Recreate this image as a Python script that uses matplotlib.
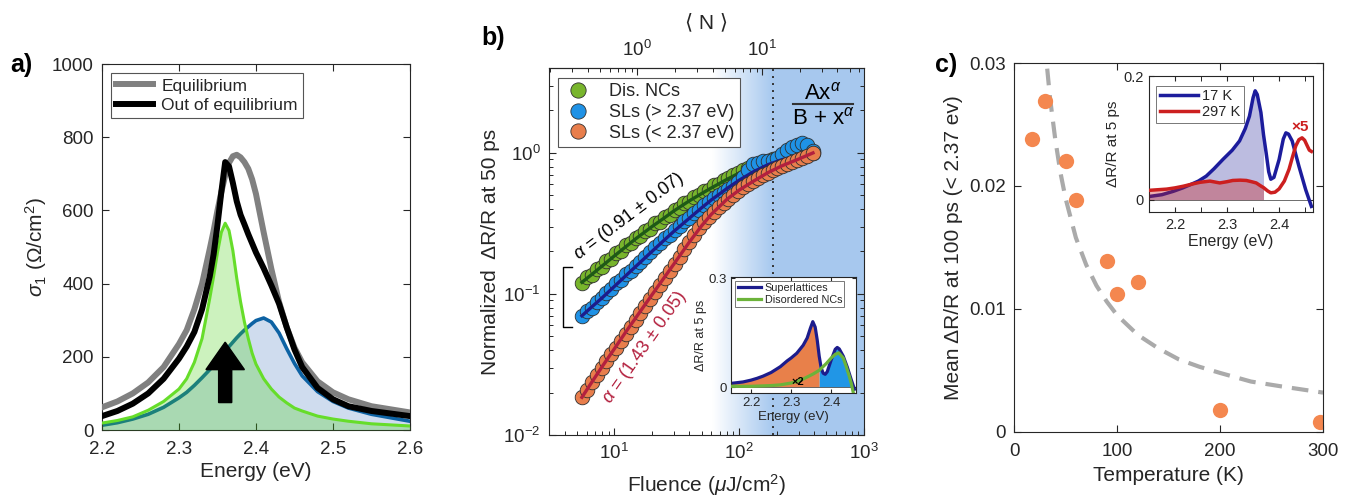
import numpy as np
import matplotlib
matplotlib.use('Agg')
import matplotlib.pyplot as plt
from matplotlib.lines import Line2D
from matplotlib.ticker import FixedLocator

plt.rcParams['font.family'] = ['Liberation Sans', 'DejaVu Sans']
plt.rcParams['mathtext.fontset'] = 'custom'
plt.rcParams['mathtext.rm'] = 'Liberation Sans'
plt.rcParams['mathtext.it'] = 'Liberation Sans:italic'
plt.rcParams['mathtext.bf'] = 'Liberation Sans:bold'
plt.rcParams['axes.unicode_minus'] = False
plt.rcParams['xtick.direction'] = 'in'
plt.rcParams['ytick.direction'] = 'in'
plt.rcParams['axes.edgecolor'] = '#262626'
plt.rcParams['xtick.color'] = '#262626'
plt.rcParams['ytick.color'] = '#262626'
plt.rcParams['text.color'] = '#262626'
plt.rcParams['axes.labelcolor'] = '#262626'

# ---------------- Panel a data ----------------
energy_a = [2.20, 2.22, 2.24, 2.26, 2.28, 2.30, 2.31, 2.32, 2.33, 2.34, 2.345,
            2.35, 2.355, 2.36, 2.365, 2.37, 2.375, 2.38, 2.385, 2.39, 2.395,
            2.40, 2.41, 2.42, 2.43, 2.44, 2.45, 2.46, 2.48, 2.50, 2.52, 2.55, 2.60]
sigma_eq = [62, 78, 100, 130, 172, 235, 273, 330, 400, 495, 545, 600, 650, 695, 730,
            748, 752, 745, 732, 714, 685, 645, 540, 440, 350, 280, 225, 185, 133,
            103, 84, 65, 48]
sigma_neq = [38, 52, 72, 100, 140, 195, 228, 268, 330, 420, 480, 560, 650, 732, 720,
             675, 625, 588, 562, 535, 510, 485, 442, 395, 345, 280, 220, 172, 115,
             84, 65, 52, 38]
sigma_green = [19, 26, 36, 54, 78, 112, 140, 185, 250, 360, 420, 485, 540, 565, 545,
               490, 415, 350, 295, 250, 210, 180, 140, 112, 90, 74, 60, 52, 38, 30,
               24, 17, 11]
sigma_blue = [13, 20, 30, 43, 62, 88, 103, 122, 143, 165, 177, 190, 203, 215, 228,
              240, 252, 263, 273, 282, 291, 299, 306, 295, 265, 222, 182, 148, 105,
              78, 60, 43, 24]

# ---------------- Panel b data ----------------
fluence = [5.5, 6.0, 6.6, 7.2, 7.9, 8.6, 9.4, 10.3, 11.3, 12.3, 13.5, 14.8, 16.2,
           17.7, 19.4, 21.2, 23.2, 25.4, 27.8, 30.4, 33.3, 36.4, 39.9, 43.6, 47.7,
           52.2, 57.2, 62.6, 68.5, 74.9, 82.0, 89.7, 98.2, 107, 118, 129, 141, 154,
           169, 185, 202, 221, 242, 265, 290, 317, 347, 390]
dis_ncs = [0.120, 0.131, 0.136, 0.150, 0.156, 0.170, 0.178, 0.195, 0.203, 0.221,
           0.229, 0.250, 0.258, 0.281, 0.290, 0.316, 0.326, 0.352, 0.362, 0.392,
           0.404, 0.438, 0.452, 0.486, 0.500, 0.536, 0.550, 0.588, 0.604, 0.644,
           0.660, 0.700, 0.718, 0.755, 0.776, 0.812, 0.826, 0.858, 0.872, 0.898,
           0.908, 0.932, 0.940, 0.960, 0.966, 0.984, 0.990, 1.000]
sl_high = [0.070, 0.076, 0.080, 0.088, 0.093, 0.102, 0.108, 0.119, 0.126, 0.138,
           0.146, 0.159, 0.169, 0.184, 0.197, 0.215, 0.229, 0.249, 0.263, 0.285,
           0.301, 0.327, 0.346, 0.374, 0.395, 0.425, 0.448, 0.480, 0.505, 0.530,
           0.555, 0.580, 0.620, 0.680, 0.760, 0.830, 0.855, 0.870, 0.875, 0.885,
           0.920, 0.980, 1.050, 1.100, 1.140, 1.180, 1.130, 1.030]
sl_low = [0.0185, 0.0207, 0.0237, 0.0266, 0.0300, 0.0336, 0.0376, 0.0416, 0.0466,
          0.0518, 0.0582, 0.0650, 0.0730, 0.0815, 0.0917, 0.1025, 0.1152, 0.1292,
          0.1445, 0.163, 0.184, 0.207, 0.234, 0.262, 0.292, 0.322, 0.352, 0.382,
          0.412, 0.442, 0.474, 0.506, 0.538, 0.570, 0.603, 0.635, 0.665, 0.695,
          0.726, 0.755, 0.783, 0.812, 0.840, 0.868, 0.895, 0.925, 0.955, 1.000]
fit_fluence = [5.5, 6.5, 8, 10, 12.5, 15, 20, 25, 30, 40, 50, 60, 80, 100, 130, 170,
               220, 300, 390]
fit_dis = [0.121, 0.136, 0.158, 0.186, 0.218, 0.248, 0.300, 0.345, 0.388, 0.458,
           0.515, 0.565, 0.650, 0.720, 0.800, 0.872, 0.928, 0.975, 1.0]
fit_high = [0.070, 0.080, 0.094, 0.113, 0.136, 0.158, 0.200, 0.240, 0.278, 0.345,
            0.408, 0.465, 0.560, 0.640, 0.735, 0.825, 0.895, 0.960, 1.0]
fit_low = [0.0185, 0.0232, 0.0306, 0.0408, 0.0546, 0.0686, 0.0985, 0.130, 0.163,
           0.234, 0.304, 0.368, 0.470, 0.545, 0.630, 0.725, 0.810, 0.905, 1.0]
fluence_per_N = 15.3
threshold_fluence = 187

# inset b
energy_ib_sl = [2.15, 2.18, 2.20, 2.215, 2.23, 2.25, 2.273, 2.29, 2.30, 2.314, 2.33,
                2.34, 2.348, 2.354, 2.36, 2.365, 2.37, 2.375, 2.38, 2.385, 2.39,
                2.40, 2.41, 2.415, 2.42, 2.43, 2.44, 2.45, 2.458]
dr_sl = [0.010, 0.014, 0.019, 0.024, 0.030, 0.040, 0.056, 0.072, 0.080, 0.093, 0.115,
         0.135, 0.162, 0.180, 0.165, 0.130, 0.085, 0.052, 0.038, 0.035, 0.042,
         0.075, 0.104, 0.109, 0.105, 0.085, 0.055, 0.020, -0.006]
energy_ib_nc = [2.15, 2.20, 2.25, 2.273, 2.30, 2.314, 2.33, 2.355, 2.37, 2.388, 2.40,
                2.41, 2.419, 2.43, 2.437, 2.445, 2.45, 2.455]
dr_nc = [0.002, 0.002, 0.004, 0.006, 0.011, 0.015, 0.022, 0.036, 0.046, 0.065, 0.080,
         0.090, 0.094, 0.080, 0.058, 0.030, 0.010, -0.015]

# ---------------- Panel c data ----------------
temperature = [17, 30, 50, 60, 90, 100, 120, 200, 297]
mean_dr = [0.0238, 0.0269, 0.0220, 0.0189, 0.0139, 0.0112, 0.0122, 0.0018, 0.0008]
fit_T = [30, 32, 35, 40, 45, 50, 60, 70, 80, 90, 100, 120, 140, 160, 180, 200, 230,
         260, 300]
fit_dr = [0.0317, 0.0297, 0.0271, 0.0238, 0.0211, 0.0190, 0.0158, 0.0136, 0.0119,
          0.0106, 0.0095, 0.0079, 0.0068, 0.0059, 0.0053, 0.0048, 0.0041, 0.0037,
          0.0032]

# inset c
energy_17 = [2.15, 2.175, 2.197, 2.215, 2.229, 2.245, 2.26, 2.275, 2.292, 2.31, 2.324,
             2.335, 2.343, 2.35, 2.354, 2.358, 2.365, 2.37, 2.375, 2.38, 2.384, 2.39,
             2.40, 2.408, 2.413, 2.418, 2.425, 2.438, 2.451, 2.462]
dr_17 = [0.005, 0.008, 0.0135, 0.019, 0.024, 0.030, 0.038, 0.050, 0.065, 0.080, 0.095,
         0.115, 0.135, 0.165, 0.176, 0.170, 0.141, 0.105, 0.076, 0.045, 0.033, 0.036,
         0.065, 0.098, 0.108, 0.106, 0.095, 0.054, 0.016, -0.011]
energy_297 = [2.15, 2.167, 2.184, 2.20, 2.216, 2.232, 2.248, 2.267, 2.286, 2.30,
              2.311, 2.325, 2.337, 2.347, 2.356, 2.365, 2.37, 2.378, 2.384, 2.392,
              2.40, 2.41, 2.419, 2.426, 2.432, 2.438, 2.444, 2.449, 2.454, 2.458,
              2.462]
dr_297 = [0.015, 0.016, 0.017, 0.019, 0.0217, 0.025, 0.028, 0.030, 0.027, 0.029,
          0.031, 0.0315, 0.031, 0.029, 0.027, 0.022, 0.0195, 0.014, 0.011, 0.012,
          0.0174, 0.030, 0.049, 0.070, 0.087, 0.097, 0.100, 0.096, 0.087, 0.080,
          0.078]

split_energy = 2.37

# ======================================================================
fig = plt.figure(figsize=(13.49, 5.04), dpi=100)
TICK = 13.5
LAB = 15

def style(ax, fs=TICK, length=5, pad=6):
    ax.tick_params(which='both', direction='in', labelsize=fs, top=True, right=True,
                   pad=pad)
    ax.tick_params(which='major', length=length, width=0.8)
    ax.tick_params(which='minor', length=length * 0.6, width=0.7)
    for s in ax.spines.values():
        s.set_linewidth(0.8)

# ---------------- Panel a ----------------
axa = fig.add_axes([0.0756, 0.1468, 0.2283, 0.7262])
E = np.array(energy_a)
axa.fill_between(E, sigma_blue, 0, color='#cfdcee', lw=0, zorder=1)
axa.plot(E, sigma_blue, color='#0d62a3', lw=2.6, zorder=2)
axa.fill_between(E, sigma_green, 0, color='#46d212', alpha=0.27, lw=0, zorder=3)
axa.plot(E, sigma_green, color='#66dd2a', lw=2.2, zorder=4)
axa.plot(E, sigma_eq, color='#808080', lw=4.3, zorder=5, label='Equilibrium')
axa.plot(E, sigma_neq, color='black', lw=4.3, zorder=6, label='Out of equilibrium')
axa.arrow(2.36, 75, 0, 165, width=0.017, head_width=0.05, head_length=75,
          length_includes_head=True, color='black', zorder=7)
axa.set_xlim(2.2, 2.6)
axa.set_ylim(0, 1000)
axa.set_xticks([2.2, 2.3, 2.4, 2.5, 2.6])
axa.set_yticks([0, 200, 400, 600, 800, 1000])
style(axa)
axa.tick_params(axis='x', pad=8)
axa.set_xlabel('Energy (eV)', fontsize=LAB, labelpad=3)
axa.set_ylabel(r'$\sigma_1$ ($\Omega$/cm$^2$)', fontsize=LAB, labelpad=2)
leg = axa.legend(loc='upper left', bbox_to_anchor=(0.029, 0.975), borderaxespad=0,
                 fontsize=12.5, fancybox=False, edgecolor='#555555', framealpha=1,
                 handlelength=2.1, borderpad=0.3, labelspacing=0.25, handletextpad=0.5)
leg.get_frame().set_linewidth(0.8)

# ---------------- Panel b ----------------
posb = [0.407, 0.1369, 0.2335, 0.7282]
bg = fig.add_axes(posb, zorder=0)
bg.axis('off')
n = 512
frac = np.linspace(0, 1, n)
t = np.clip((frac - 0.52) / (0.71 - 0.52), 0, 1)
blue_bg = np.array([0.655, 0.787, 0.937])
grad = (1 - t)[:, None] * np.ones(3)[None, :] + t[:, None] * blue_bg[None, :]
bg.imshow(grad[None, :, :], extent=[0, 1, 0, 1], aspect='auto')
bg.set_xlim(0, 1)
bg.set_ylim(0, 1)

axb = fig.add_axes(posb, zorder=1)
axb.patch.set_alpha(0)
axb.set_xscale('log')
axb.set_yscale('log')
axb.axvline(threshold_fluence, color='#333333', ls=(0, (1, 2.6)), lw=1.4, zorder=1.5)
mk = dict(ls='none', marker='o', ms=10.5, mec='#303030', mew=0.6)
axb.plot(fluence, dis_ncs, mfc='#78b52c', zorder=2, **mk)
axb.plot(fit_fluence, fit_dis, color='#1e5a16', lw=2.4, zorder=3)
axb.plot(fluence, sl_high, mfc='#1f92e6', zorder=4, **mk)
axb.plot(fit_fluence, fit_high, color='#1c1c8c', lw=2.4, zorder=5)
axb.plot(fluence, sl_low, mfc='#e87e4c', zorder=6, **mk)
axb.plot(fit_fluence, fit_low, color='#b3203e', lw=2.4, zorder=7)
axb.set_xlim(3, 1000)
axb.set_ylim(0.01, 4)
style(axb)
axb.tick_params(which='both', top=False)
axb.set_xlabel(r'Fluence ($\mu$J/cm$^2$)', fontsize=LAB, labelpad=6)
axb.set_ylabel('Normalized  ΔR/R at 50 ps', fontsize=LAB, labelpad=2)

secax = axb.secondary_xaxis('top', functions=(lambda f: np.asarray(f) / fluence_per_N,
                                              lambda nn: np.asarray(nn) * fluence_per_N))
secax.set_xticks([1, 10])
secax.tick_params(which='both', direction='in', labelsize=TICK, pad=6)
secax.tick_params(which='major', length=5, width=0.8)
secax.tick_params(which='minor', length=3, width=0.7)
secax.set_xlabel('⟨ N ⟩', fontsize=LAB, labelpad=8)

hb = [Line2D([], [], ls='none', marker='o', ms=11, mec='#303030', mew=0.6, mfc=c)
      for c in ['#78b52c', '#1f92e6', '#e87e4c']]
legb = axb.legend(hb, ['Dis. NCs', 'SLs (> 2.37 eV)', 'SLs (< 2.37 eV)'],
                  loc='upper left', bbox_to_anchor=(0.029, 0.973), borderaxespad=0,
                  fontsize=13, fancybox=False, edgecolor='#555555', framealpha=1,
                  borderpad=0.3, labelspacing=0.2, handletextpad=0.9, handlelength=1.6)
legb.get_frame().set_linewidth(0.8)
legb.set_zorder(10)

axb.text(0.255, 0.595, r'$\alpha$ = (0.91 ± 0.07)', transform=axb.transAxes,
         rotation=37, ha='center', va='center', rotation_mode='anchor',
         fontsize=13, color='black', zorder=9)
axb.text(0.305, 0.240, r'$\alpha$ = (1.43 ± 0.05)', transform=axb.transAxes,
         rotation=55, ha='center', va='center', rotation_mode='anchor',
         fontsize=13, color='#b3203e', zorder=9)
axb.text(0.870, 0.930, r'Ax$^{\alpha}$', transform=axb.transAxes, ha='center',
         va='center', fontsize=16, color='black', zorder=9)
axb.plot([0.775, 0.965], [0.902, 0.902], transform=axb.transAxes, color='#333333',
         lw=1.5, zorder=9)
axb.text(0.870, 0.862, r'B + x$^{\alpha}$', transform=axb.transAxes, ha='center',
         va='center', fontsize=16, color='black', zorder=9)
axb.plot([0.074, 0.0454, 0.0454, 0.074], [0.4586, 0.4586, 0.295, 0.295],
         transform=axb.transAxes, color='black', lw=1.0, zorder=9, clip_on=False)

# inset b
axib = fig.add_axes([0.5419, 0.2202, 0.0927, 0.2302], zorder=5)
Esl = np.array(energy_ib_sl)
ysl = np.array(dr_sl)
axib.fill_between(Esl, ysl, 0, where=(Esl <= split_energy) & (ysl > 0),
                  color='#e8804a', lw=0, zorder=1)
axib.fill_between(Esl, ysl, 0, where=(Esl >= split_energy) & (ysl > 0),
                  color='#2196e6', lw=0, zorder=1)
axib.axhline(0, color='#555555', lw=0.6, zorder=1.5)
axib.plot(Esl, ysl, color='#1c1c8c', lw=2.3, zorder=2, label='Superlattices')
axib.plot(energy_ib_nc, dr_nc, color='#6cb33a', lw=2.3, zorder=3, label='Disordered NCs')
axib.text(2.317, 0.014, '×2', fontsize=8, fontweight='bold', color='black',
          ha='center', va='center', zorder=4)
axib.set_xlim(2.15, 2.462)
axib.set_ylim(-0.0165, 0.303)
axib.set_xticks([2.2, 2.3, 2.4])
axib.set_yticks([0, 0.3])
axib.set_yticklabels(['0', '0.3'])
style(axib, fs=9.5, length=3, pad=3)
axib.set_xlabel('Energy (eV)', fontsize=9.5, labelpad=1)
axib.set_ylabel('ΔR/R at 5 ps', fontsize=9, labelpad=1)
legib = axib.legend(loc='upper left', bbox_to_anchor=(0.035, 0.965), borderaxespad=0,
                    fontsize=7.8, fancybox=False, edgecolor='#777777', framealpha=1,
                    borderpad=0.2, labelspacing=0.15, handlelength=2.2,
                    handletextpad=0.3)
legib.get_frame().set_linewidth(0.7)

# ---------------- Panel c ----------------
axc = fig.add_axes([0.7517, 0.1429, 0.2291, 0.7321])
axc.plot(fit_T, fit_dr, color='#aaaaaa', lw=3.0, ls=(0, (4, 2.4)), zorder=1)
axc.plot(temperature, mean_dr, ls='none', marker='o', ms=11, color='#f4874f',
         mec='none', zorder=2)
axc.set_xlim(0, 300)
axc.set_ylim(0, 0.03)
axc.set_xticks([0, 100, 200, 300])
axc.set_yticks([0, 0.01, 0.02, 0.03])
axc.set_yticklabels(['0', '0.01', '0.02', '0.03'])
style(axc)
axc.tick_params(axis='x', pad=8)
axc.set_xlabel('Temperature (K)', fontsize=LAB, labelpad=4)
axc.set_ylabel('Mean ΔR/R at 100 ps (< 2.37 ev)', fontsize=LAB, labelpad=4)

# inset c
axic = fig.add_axes([0.8517, 0.5794, 0.1216, 0.2698])
E17 = np.array(energy_17)
y17 = np.array(dr_17)
E297 = np.array(energy_297)
y297 = np.array(dr_297)
axic.fill_between(E17, y17, 0, where=E17 <= split_energy, color='#22229a',
                  alpha=0.3, lw=0, zorder=1)
axic.plot(E17, y17, color='#1c1c9c', lw=2.5, zorder=2, label='17 K')
axic.fill_between(E297, y297, 0, where=E297 <= split_energy, color='#cc1f1f',
                  alpha=0.35, lw=0, zorder=3)
axic.plot(E297, y297, color='#cc1f1f', lw=2.5, zorder=4, label='297 K')
axic.axhline(0, color='#555555', lw=0.6, zorder=1.5)
axic.text(2.440, 0.118, '×5', fontsize=11, fontweight='bold', color='#cc1f1f',
          ha='center', va='center', zorder=5)
axic.set_xlim(2.15, 2.465)
axic.set_ylim(-0.02, 0.2)
axic.set_xticks([2.2, 2.3, 2.4])
axic.xaxis.set_minor_locator(FixedLocator([2.25, 2.35, 2.45]))
axic.set_yticks([0, 0.2])
axic.set_yticklabels(['0', '0.2'])
style(axic, fs=10.5, length=3.5, pad=4)
axic.tick_params(which='minor', length=3.5)
axic.set_xlabel('Energy (eV)', fontsize=11.5, labelpad=2)
axic.set_ylabel('ΔR/R at 5 ps', fontsize=11, labelpad=2)
legic = axic.legend(loc='upper left', bbox_to_anchor=(0.045, 0.93), borderaxespad=0,
                    fontsize=10.5, fancybox=False, edgecolor='#777777', framealpha=1,
                    borderpad=0.25, labelspacing=0.15, handlelength=2.6,
                    handletextpad=0.3)
legic.get_frame().set_linewidth(0.7)

# panel labels
fig.text(0.0074, 0.857, 'a)', fontsize=18, fontweight='bold', color='black')
fig.text(0.357, 0.911, 'b)', fontsize=18, fontweight='bold', color='black')
fig.text(0.693, 0.857, 'c)', fontsize=18, fontweight='bold', color='black')

fig.savefig('out.png', dpi=100)
